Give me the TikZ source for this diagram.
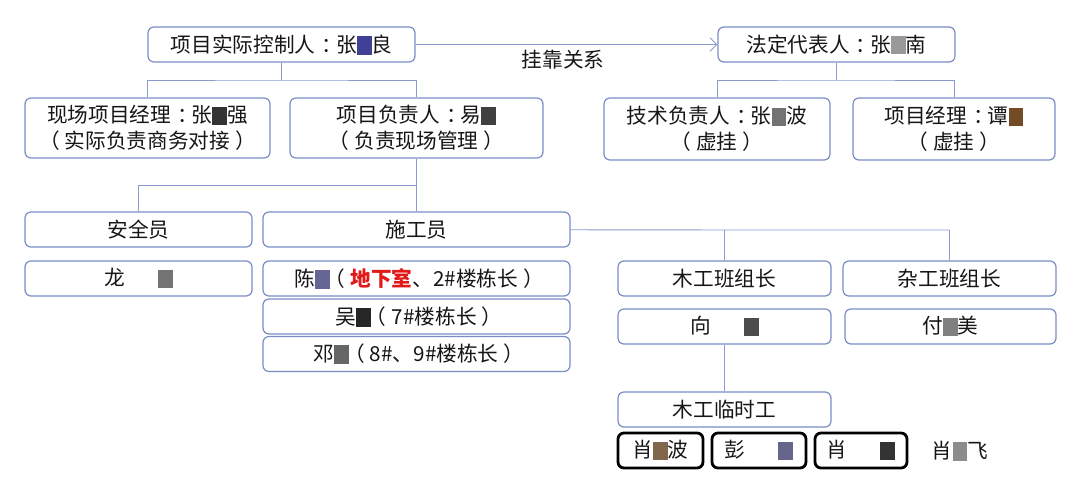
\documentclass[tikz,border=0pt]{standalone}
\usepackage{fontspec}
\setmainfont{Noto Sans CJK SC}
\usetikzlibrary{arrows.meta}

\definecolor{boxline}{RGB}{122,140,198}
\definecolor{linkline}{RGB}{140,155,205}
\definecolor{txt}{RGB}{22,22,22}
\definecolor{hot}{RGB}{225,25,25}
% pixelated (hidden) name characters
\newcommand{\msk}[1][black!65]{\textcolor{#1}{\rule[-0.12em]{0.72em}{0.9em}}}
% centred full-width punctuation
\newcommand{\fcol}{\kern0.3em：\kern-0.3em}
\newcommand{\lpar}{\kern-0.25em（\kern0.25em}
\newcommand{\rpar}{\kern0.25em）\kern-0.25em}

\tikzset{
  box/.style={draw=boxline, line width=0.9pt, rounded corners=4.5pt, fill=white,
    text=txt, align=center, inner sep=0pt, font=\fontsize{15.5pt}{19.5pt}\selectfont},
  worker/.style={draw=black, line width=2.1pt, rounded corners=4.5pt,
    text=txt, inner sep=0pt, font=\fontsize{15.5pt}{19.5pt}\selectfont},
  wh/.style 2 args={minimum width=#1*0.75pt, minimum height=#2*0.75pt},
  link/.style={draw=linkline, line width=0.7pt},
  plain/.style={text=txt, inner sep=1pt, font=\fontsize{15.5pt}{19.5pt}\selectfont},
}

\begin{document}
\begin{tikzpicture}[x=0.75pt, y=-0.75pt]
\useasboundingbox (0,0) rectangle (1080,493);

% Top level
\node[box, wh={267}{35}] (ctrl) at (281.5,44.5) {项目实际控制人\fcol 张\msk[blue!45!black!75]良};
\node[box, wh={237}{35}] (legal) at (836.5,44.5) {法定代表人\fcol 张\msk[black!40]南};
\draw[link, -{Straight Barb[length=5pt, width=10pt]}] (ctrl) -- (legal);
\node[plain] (hang) at (563,60) {挂靠关系};

% Second level
\node[box, wh={245}{60}] (site) at (147.5,128) {现场项目经理\fcol 张\msk[black!80]强\\\lpar 实际负责商务对接\rpar};
\node[box, wh={253}{60}] (lead) at (416.5,128) {项目负责人\fcol 易\msk[black!75]\\\lpar 负责现场管理\rpar};
\node[box, wh={226}{62}] (tech) at (717,129) {技术负责人\fcol 张\msk[black!55]波\\\lpar 虚挂\rpar};
\node[box, wh={202}{62}] (pm) at (954,129) {项目经理\fcol 谭\msk[brown!60!black]\\\lpar 虚挂\rpar};

\coordinate (j1) at (281.5,80);
\coordinate (j2) at (836.5,80);
\draw[link] (ctrl) -- (j1);
\draw[link] (site) |- (j1) -| (lead);
\draw[link] (legal) -- (j2);
\draw[link] (tech) |- (j2) -| (pm);

% Site staff
\node[box, wh={227}{35}] (safe) at (138.5,229.5) {安全员};
\node[box, wh={307}{35}] (builder) at (416.5,229.5) {施工员};
\coordinate (j3) at (416.5,185);
\draw[link] (lead) -- (builder);
\draw[link] (safe) |- (j3);

\node[box, wh={227}{35}] (long) at (138.5,278.5) {龙\hspace{1.6em}\msk[black!55]};
\node[box, wh={307}{35}] (chen) at (416.5,278.5) {陈\msk[blue!30!black!60]\lpar\textcolor{hot}{\bfseries 地下室}、2\#楼栋长\rpar};
\node[box, wh={307}{35}] (wu) at (416.5,316.5) {吴\msk[black!85]\lpar 7\#楼栋长\rpar};
\node[box, wh={307}{35}] (deng) at (416.5,354) {邓\msk[black!60]\lpar 8\#、9\#楼栋长\rpar};

% Team leaders
\node[box, wh={213}{35}] (wood) at (724.5,278.5) {木工班组长};
\node[box, wh={213}{35}] (misc) at (949.5,278.5) {杂工班组长};
\coordinate (j4) at (724.5,230);
\draw[link] (builder) -- (j4) -| (misc);
\draw[link] (j4) -- (wood);

\node[box, wh={213}{35}] (xiang) at (724.5,326.5) {向\hspace{1.6em}\msk[black!70]};
\node[box, wh={211}{35}] (fu) at (950.5,326.5) {付\msk[black!50]美};

% Temporary carpenters
\node[box, wh={213}{35}] (temp) at (724.5,409.5) {木工临时工};
\draw[link] (xiang) -- (temp);

\node[worker, wh={85}{35}] (w1) at (660.5,450.5) {肖\msk[brown!50!black!80]波};
\node[worker, wh={94}{35}] (w2) at (759,450.5) {彭\hspace{1.6em}\msk[blue!25!black!60]};
\node[worker, wh={92}{35}] (w3) at (861,450.5) {肖\hspace{1.6em}\msk[black!80]};
\node[plain] (w4) at (960,451) {肖\msk[black!45]飞};
\end{tikzpicture}
\end{document}
